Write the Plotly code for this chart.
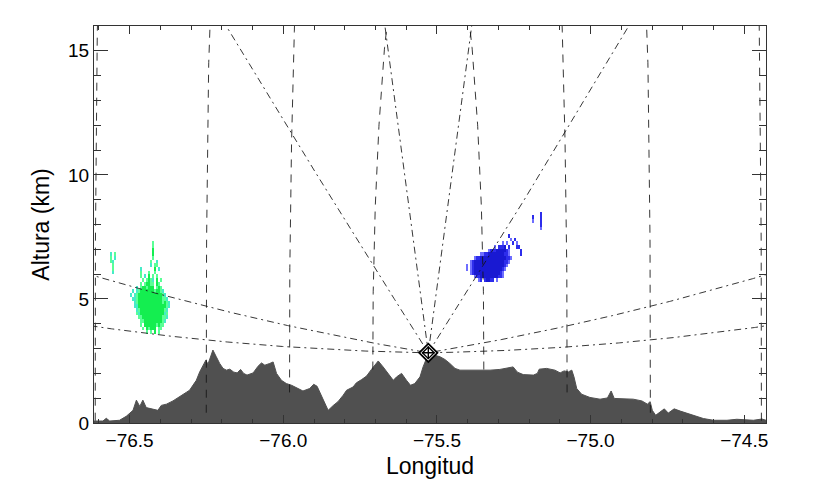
import numpy as np
import plotly.graph_objects as go

# ---------------- data ----------------
RADAR_LON = -75.528
RADAR_LAT = 6.19
RADAR_ALT_KM = 2.83
BEAM_ELEVATIONS_DEG = [0.1, 1.07, 10.0, 40.0]
RANGE_RINGS_KM = [20, 50, 80, 120]

X_RANGE = [-76.616, -74.429]
Y_RANGE = [0, 16]
X_TICKS = [-76.5, -76.0, -75.5, -75.0, -74.5]
Y_TICKS = [0, 5, 10, 15]

TERRAIN_LON = [-76.616, -76.587, -76.576, -76.565, -76.533, -76.511, -76.489, -76.478, -76.467, -76.457,
               -76.446, -76.424, -76.408, -76.397, -76.380, -76.359, -76.337, -76.315, -76.305, -76.294,
               -76.283, -76.272, -76.261, -76.252, -76.245, -76.237, -76.229, -76.218, -76.207, -76.196,
               -76.185, -76.174, -76.161, -76.150, -76.139, -76.129, -76.118, -76.098, -76.082, -76.071,
               -76.060, -76.044, -76.033, -76.022, -76.006, -75.990, -75.973, -75.952, -75.936, -75.914,
               -75.901, -75.890, -75.879, -75.868, -75.854, -75.838, -75.822, -75.805, -75.794, -75.773,
               -75.762, -75.745, -75.729, -75.713, -75.702, -75.691, -75.675, -75.659, -75.642, -75.631,
               -75.615, -75.599, -75.586, -75.572, -75.555, -75.545, -75.534, -75.523, -75.507, -75.490,
               -75.474, -75.458, -75.441, -75.425, -75.393, -75.360, -75.327, -75.295, -75.268, -75.252,
               -75.238, -75.219, -75.186, -75.173, -75.167, -75.143, -75.116, -75.099, -75.086, -75.072,
               -75.061, -75.054, -75.045, -75.029, -75.002, -74.969, -74.945, -74.933, -74.923, -74.893,
               -74.861, -74.833, -74.815, -74.806, -74.799, -74.788, -74.774, -74.760, -74.747, -74.728,
               -74.708, -74.687, -74.660, -74.633, -74.600, -74.556, -74.524, -74.497, -74.470, -74.442,
               -74.429]
TERRAIN_ALT_KM = [0.08, 0.08, 0.19, 0.08, 0.11, 0.27, 0.51, 0.92, 0.67, 0.92,
                  0.62, 0.54, 0.51, 0.71, 0.76, 0.89, 1.05, 1.24, 1.32, 1.52,
                  1.72, 2.06, 2.33, 2.53, 2.37, 2.64, 2.94, 2.67, 2.40, 2.20,
                  2.13, 2.17, 2.05, 2.02, 2.16, 2.00, 1.93, 2.02, 2.29, 2.42,
                  2.33, 2.40, 2.46, 2.00, 1.72, 1.59, 1.52, 1.39, 1.29, 1.39,
                  1.56, 1.48, 1.19, 0.89, 0.51, 0.70, 0.86, 1.12, 1.32, 1.45,
                  1.62, 1.75, 1.89, 2.16, 2.33, 2.50, 2.26, 2.00, 1.72, 1.86,
                  2.00, 1.72, 1.52, 1.59, 1.86, 2.26, 2.60, 2.73, 2.73, 2.67,
                  2.56, 2.40, 2.20, 2.13, 2.13, 2.10, 2.13, 2.16, 2.22, 2.26,
                  2.05, 1.95, 1.93, 2.00, 2.17, 2.20, 2.13, 2.02, 2.10, 2.06,
                  2.13, 1.86, 1.39, 1.16, 1.03, 0.96, 1.01, 1.29, 0.99, 0.99,
                  0.96, 0.89, 0.76, 0.86, 0.51, 0.31, 0.44, 0.57, 0.40, 0.57,
                  0.48, 0.40, 0.30, 0.18, 0.11, 0.11, 0.15, 0.14, 0.11, 0.16,
                  0.11]

# echo cells: grid spacing and (row, first column, pattern) with class 1..3
CELL_DLON = 0.0065
CELL_DALT = 0.15

GREEN_LON_START = -76.575
GREEN_ALT_TOP = 7.26
GREEN_NCOLS, GREEN_NROWS = 33, 25
GREEN_CELLS = [
    (0, 23, "2"), (1, 23, "2"), (2, 23, "3"),
    (3, 2, "1.2"), (3, 23, "3"),
    (4, 2, "2.1"), (4, 23, "2"),
    (5, 2, "21"), (5, 22, "2..1"),
    (6, 3, "2"), (6, 22, "1.22"),
    (7, 3, "2"), (7, 17, "1"), (7, 24, "3.1"),
    (8, 3, "1"), (8, 17, "2...2..2"),
    (9, 17, "2.1.3.2.2"),
    (10, 18, "2.2321.3.2"),
    (11, 17, "2.23322.32"),
    (12, 15, "1.2332333.232"),
    (13, 13, "1.12333333323321"),
    (14, 12, "1.1233333333333321"),
    (15, 13, "112333333333333221"),
    (16, 14, "123333333333332321"),
    (17, 14, "113333333333333321"),
    (18, 15, "1233333333333321"),
    (19, 15, "2133333333333312"),
    (20, 16, "223333333333221"),
    (21, 17, "2233333333321"),
    (22, 17, "2.3333332322"),
    (23, 18, "2.32333.22"),
    (24, 20, "2.2.3.2"),
]
GREEN_COLORS = ["rgb(70,235,200)", "rgb(90,255,150)", "rgb(20,238,80)"]

BLUE_LON_START = -75.409
BLUE_ALT_TOP = 8.59
BLUE_NCOLS, BLUE_NROWS = 40, 20
BLUE_CELLS = [
    (1, 38, "2"),
    (2, 34, "2...2"),
    (3, 34, "1...2"),
    (4, 38, "2"),
    (5, 38, "1"),
    (7, 22, "2"),
    (8, 23, "1.2"),
    (9, 19, "1.1..2.1"),
    (10, 15, "1.2223.2...22"),
    (11, 12, "12223333321.....2"),
    (12, 8, "112233333333221.....2"),
    (13, 5, "1223333333333333221"),
    (14, 3, "12333333333333333221"),
    (15, 1, "1.1233333333333333321"),
    (16, 1, "1.123333333333333321"),
    (17, 3, "12333333333333321"),
    (18, 5, "122333333333221"),
    (19, 7, "12.23322.1"),
]
BLUE_COLORS = ["rgb(110,110,255)", "rgb(45,45,235)", "rgb(25,25,210)"]

# ---------------- geometry helpers ----------------
RE_EFF = 4.0 / 3.0 * 6371.0
KM_PER_DEG = 111.32 * np.cos(np.radians(RADAR_LAT))


def beam(r, el_deg):
    e = np.radians(el_deg)
    h = np.sqrt(r ** 2 + RE_EFF ** 2 + 2 * r * RE_EFF * np.sin(e)) - RE_EFF
    s = RE_EFF * np.arcsin(r * np.cos(e) / (RE_EFF + h))
    return s / KM_PER_DEG, h + RADAR_ALT_KM


def build_grid(cells, ncols, nrows, lon0, alt_top):
    z = [[None] * ncols for _ in range(nrows)]
    for row, c0, pat in cells:
        for k, ch in enumerate(pat):
            if ch != ".":
                z[row][c0 + k] = int(ch)
    xs = [lon0 + j * CELL_DLON for j in range(ncols)]
    ys = [alt_top - i * CELL_DALT for i in range(nrows)]
    return xs, ys[::-1], z[::-1]


def discrete_scale(cols):
    return [[0, cols[0]], [1 / 3, cols[0]], [1 / 3, cols[1]], [2 / 3, cols[1]],
            [2 / 3, cols[2]], [1, cols[2]]]


fig = go.Figure()

# terrain
fig.add_trace(go.Scatter(x=TERRAIN_LON, y=TERRAIN_ALT_KM, mode="lines", fill="tozeroy",
                         fillcolor="#505050", line=dict(color="#505050", width=1),
                         hoverinfo="skip", showlegend=False))

# echoes
for cells, nc, nr, lon0, atop, cols in [
        (GREEN_CELLS, GREEN_NCOLS, GREEN_NROWS, GREEN_LON_START, GREEN_ALT_TOP, GREEN_COLORS),
        (BLUE_CELLS, BLUE_NCOLS, BLUE_NROWS, BLUE_LON_START, BLUE_ALT_TOP, BLUE_COLORS)]:
    xs, ys, z = build_grid(cells, nc, nr, lon0, atop)
    fig.add_trace(go.Heatmap(x=xs, y=ys, z=z, zmin=0.5, zmax=3.5, colorscale=discrete_scale(cols),
                             showscale=False, hoverinfo="skip"))

LINE_COLOR = "rgba(20,20,20,0.85)"

# beam rays (dash-dot)
r = np.linspace(0, 170, 500)
for el in BEAM_ELEVATIONS_DEG:
    d, h = beam(r, el)
    xs = np.concatenate([RADAR_LON - d[::-1], RADAR_LON + d])
    ys = np.concatenate([h[::-1], h])
    fig.add_trace(go.Scatter(x=xs, y=ys, mode="lines", showlegend=False, hoverinfo="skip",
                             line=dict(color=LINE_COLOR, width=1, dash="7px,4px,2px,4px")))

# range rings (dashed)
els = np.linspace(-2, 90, 400)
for rr in RANGE_RINGS_KM:
    d, h = beam(rr, els)
    for sgn in (-1, 1):
        fig.add_trace(go.Scatter(x=RADAR_LON + sgn * d, y=h, mode="lines", showlegend=False,
                                 hoverinfo="skip",
                                 line=dict(color=LINE_COLOR, width=1, dash="8px,7px")))

# radar symbol
fig.add_trace(go.Scatter(x=[RADAR_LON], y=[RADAR_ALT_KM], mode="markers", showlegend=False,
                         marker=dict(symbol="diamond", size=14, color="white",
                                     line=dict(color="black", width=1.8))))
fig.add_trace(go.Scatter(x=[RADAR_LON], y=[RADAR_ALT_KM], mode="markers", showlegend=False,
                         marker=dict(symbol="diamond-open", size=9, color="black",
                                     line=dict(color="black", width=1.4))))
fig.add_trace(go.Scatter(x=[RADAR_LON], y=[RADAR_ALT_KM], mode="markers", showlegend=False,
                         marker=dict(symbol="cross-thin-open", size=9, color="black",
                                     line=dict(color="black", width=1.4))))

FONT = "Liberation Sans, Arial, Helvetica, sans-serif"
# the page body adds an 8 px offset; margins compensate so the plot box sits at 94..766 x 26..423
fig.update_layout(
    width=840, height=490,
    margin=dict(l=86, r=82, t=18, b=75),
    paper_bgcolor="white", plot_bgcolor="white",
    font=dict(family=FONT, size=19, color="black"),
    showlegend=False,
    xaxis=dict(range=X_RANGE, tickvals=X_TICKS, ticktext=[f"{v:.1f}".replace("-", "\u2212") for v in X_TICKS],
               ticks="inside", ticklen=8, tickcolor="#333", showline=True, linecolor="#333",
               linewidth=1, mirror="ticks", showgrid=False, zeroline=False,
               minor=dict(dtick=0.1, tick0=-76.5, ticks="inside", ticklen=4, tickcolor="#333", showgrid=False),
               title=dict(text="Longitud", standoff=8), tickfont=dict(size=19)),
    yaxis=dict(range=Y_RANGE, tickvals=Y_TICKS, ticks="inside", ticklen=14, tickcolor="#333",
               showline=True, linecolor="#333", linewidth=1, mirror="ticks", showgrid=False,
               zeroline=False,
               minor=dict(dtick=1, tick0=0, ticks="inside", ticklen=7, tickcolor="#333", showgrid=False),
               title=dict(text="Altura (km)", standoff=12), tickfont=dict(size=19)),
)

fig.write_html("out.html")
